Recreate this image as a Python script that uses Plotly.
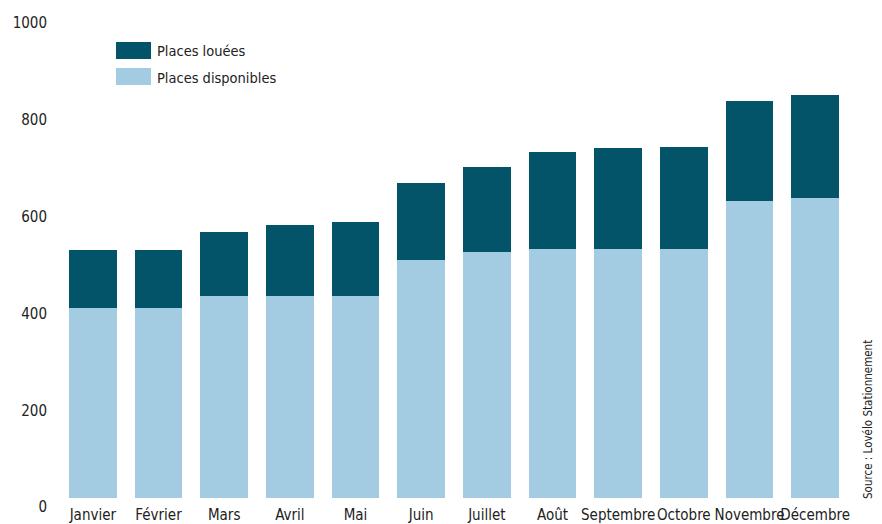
import plotly.graph_objects as go

mois = ["Janvier", "Février", "Mars", "Avril", "Mai", "Juin", "Juillet",
        "Août", "Septembre", "Octobre", "Novembre", "Décembre"]
places_disponibles = [393, 393, 418, 418, 418, 492, 509, 515, 515, 515, 614, 620]
places_totales = [513, 513, 550, 565, 571, 651, 684, 715, 724, 726, 821, 833]
places_louees = [t - d for t, d in zip(places_totales, places_disponibles)]
y_ticks = [0, 200, 400, 600, 800, 1000]

COL_DARK = "#035369"
COL_LIGHT = "#A3CBE2"
TXT = "#222222"
FONT = "DejaVu Sans Condensed, Liberation Sans Narrow, sans-serif"

# page has an 8px body margin: figure drawn 8px smaller, coordinates offset by 8
OFF = 8
W, H = 882 - OFF, 524 - OFF
ML, MR, MT, MB = 52, 34, 6, 26

fig = go.Figure()
fig.add_trace(go.Bar(x=mois, y=places_disponibles, name="Places disponibles",
                     marker=dict(color=COL_LIGHT, line=dict(width=0))))
fig.add_trace(go.Bar(x=mois, y=places_louees, name="Places louées",
                     marker=dict(color=COL_DARK, line=dict(width=0))))

fig.update_layout(
    width=W, height=H,
    margin=dict(l=ML, r=MR, t=MT, b=MB, autoexpand=False),
    barmode="stack", bargap=0.27,
    plot_bgcolor="white", paper_bgcolor="white",
    showlegend=False,
    font=dict(family=FONT, size=15, color=TXT),
    xaxis=dict(showgrid=False, showline=False, zeroline=False, ticks="",
               tickangle=0, automargin=False,
               tickfont=dict(size=15, color=TXT), ticklabelstandoff=6),
    yaxis=dict(range=[0, 1000.5], tickvals=y_ticks, showgrid=False, showline=False,
               zeroline=False, ticks="", automargin=False,
               tickfont=dict(size=15, color=TXT),
               ticklabelshift=9, ticklabelstandoff=12),
)

pw = W - ML - MR
ph = H - MT - MB
def px(x):
    return (x - OFF - ML) / pw
def py(y):
    return 1 - (y - OFF - MT) / ph

legend_items = [("Places louées", COL_DARK, 42), ("Places disponibles", COL_LIGHT, 68)]
for label, col, top in legend_items:
    fig.add_shape(type="rect", xref="paper", yref="paper",
                  x0=px(116), x1=px(151), y0=py(top + 17), y1=py(top),
                  fillcolor=col, line=dict(width=0))
    fig.add_annotation(xref="paper", yref="paper", x=px(155), y=py(top + 9.5),
                       text=label, showarrow=False, xanchor="left", yanchor="middle",
                       font=dict(size=14.5, color=TXT, family=FONT))

fig.add_annotation(xref="paper", yref="paper", x=px(868), y=py(420),
                   text="Source : Lovélo Stationnement", showarrow=False,
                   textangle=-90, xanchor="center", yanchor="middle",
                   font=dict(size=11.5, color=TXT, family=FONT))

fig.write_html("out.html")
